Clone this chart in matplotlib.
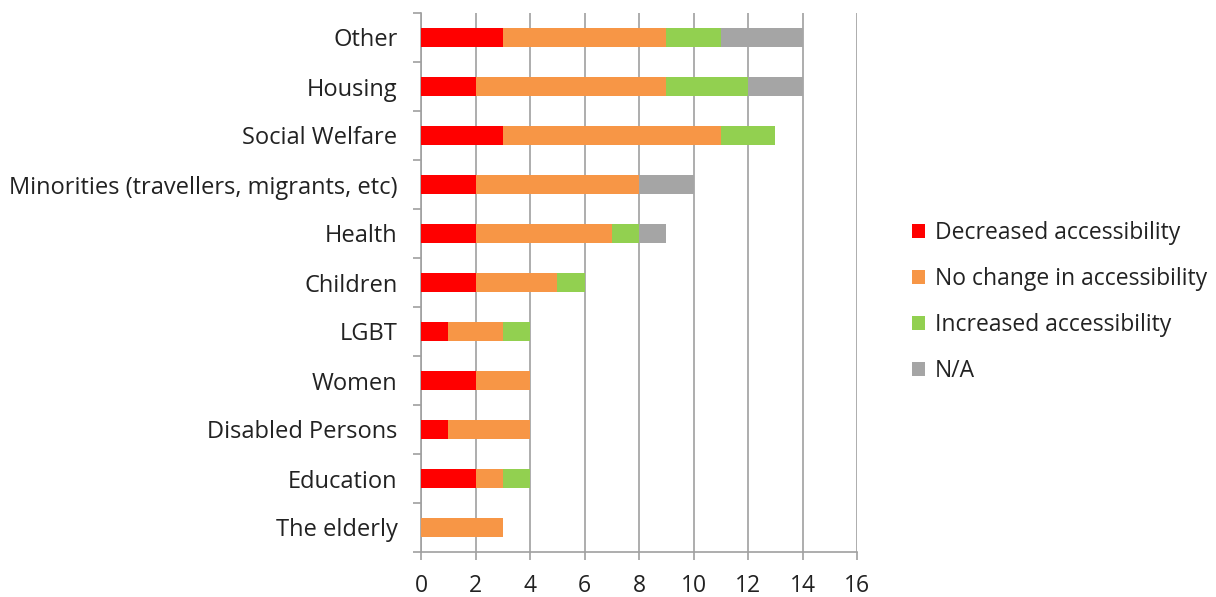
import numpy as np
import matplotlib.pyplot as plt

# Service areas, listed bottom to top as they appear on the chart
categories = ["The elderly", "Education", "Disabled Persons", "Women", "LGBT",
              "Children", "Health", "Minorities (travellers, migrants, etc)",
              "Social Welfare", "Housing", "Other"]

decreased = [0, 2, 1, 2, 1, 2, 2, 2, 3, 2, 3]
no_change = [3, 1, 3, 2, 2, 3, 5, 6, 8, 7, 6]
increased = [0, 1, 0, 0, 1, 1, 1, 0, 2, 3, 2]
not_applicable = [0, 0, 0, 0, 0, 0, 1, 2, 0, 2, 3]

series = [
    ("Decreased accessibility", decreased, "#ff0000"),
    ("No change in accessibility", no_change, "#f79646"),
    ("Increased accessibility", increased, "#92d050"),
    ("N/A", not_applicable, "#a5a5a5"),
]

plt.rcParams['font.family'] = ['Open Sans', 'DejaVu Sans']
plt.rcParams['text.color'] = '#222222'

fig = plt.figure(figsize=(12.16, 5.97), dpi=100)
ax = fig.add_axes([421 / 1216, 1 - 552 / 597, 436 / 1216, 539 / 597])

y = np.arange(len(categories))
left = np.zeros(len(categories))
for label, vals, color in series:
    vals = np.array(vals, dtype=float)
    ax.barh(y, vals, left=left, height=0.39, color=color, label=label, zorder=3)
    left += vals

ax.set_xlim(0, 16)
ax.set_ylim(-0.5, len(categories) - 0.5)
ax.set_xticks(range(0, 17, 2))
ax.set_yticks(y)
ax.set_yticklabels(categories)
ax.set_yticks(np.arange(-0.5, len(categories), 1), minor=True)
ax.tick_params(axis='y', which='major', length=0, pad=17, labelsize=17, labelcolor='#222222')
ax.tick_params(axis='y', which='minor', length=6, color='#a0a0a0', width=1.2)
ax.tick_params(axis='x', length=6, color='#a0a0a0', width=1.2, labelsize=16.5,
               pad=10, labelcolor='#222222')
ax.grid(axis='x', color='#a0a0a0', linewidth=1.2, zorder=0)

for side in ['top', 'right']:
    ax.spines[side].set_visible(False)
for side in ['left', 'bottom']:
    ax.spines[side].set_color('#a0a0a0')
    ax.spines[side].set_linewidth(1.2)

ax.legend(loc='center left', bbox_to_anchor=(891 / 1216, 1 - 302 / 597),
          bbox_transform=fig.transFigure,
          frameon=False, fontsize=16.5, handlelength=0.57, handleheight=0.57,
          handletextpad=0.45, labelspacing=0.95)

fig.savefig("out.png", dpi=100)
